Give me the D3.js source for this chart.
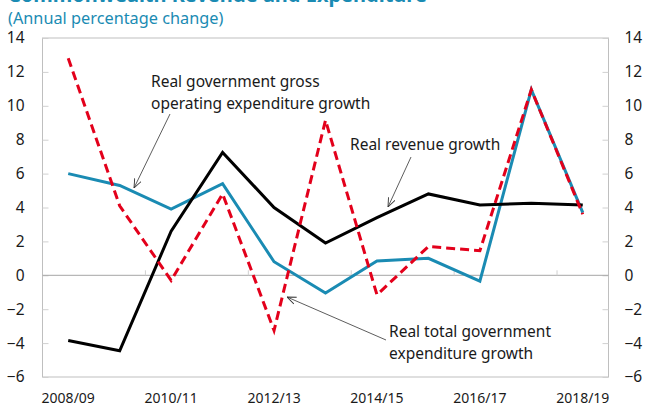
<!DOCTYPE html>
<html><head><meta charset="utf-8">
<script src="https://cdn.jsdelivr.net/npm/d3@7"></script>
<style>
body{margin:0;background:#fff;}
svg{display:block;font-family:"Noto Sans","Open Sans",sans-serif;}
</style></head>
<body>
<svg id="c" width="646" height="407"></svg>
<script>
const categories = ["2008/09","2009/10","2010/11","2011/12","2012/13","2013/14","2014/15","2015/16","2016/17","2017/18","2018/19"];
const grossOperating = [6.0, 5.3, 3.9, 5.4, 0.8, -1.05, 0.85, 1.0, -0.35, 10.95, 3.7];
const totalExpenditure = [12.8, 4.1, -0.3, 4.8, -3.25, 9.15, -1.15, 1.7, 1.45, 10.95, 3.6];
const revenue = [-3.85, -4.45, 2.6, 7.25, 4.0, 1.9, 3.4, 4.8, 4.15, 4.25, 4.15];
const yTicks = [-6,-4,-2,0,2,4,6,8,10,12,14];
const xLabels = ["2008/09","2010/11","2012/13","2014/15","2016/17","2018/19"];

const svg = d3.select("#c");
const L = 42.5, R = 608.5, T = 38, B = 377;
const x = d3.scaleBand().domain(categories).range([L, R]);
const y = d3.scaleLinear().domain([-6, 14]).range([B, T]);
const cx = d => x(d) + x.bandwidth()/2;

// title (clipped at top)
svg.append("text").attr("x", 8).attr("y", 2).attr("fill", "#1a8bb3")
  .attr("font-weight", "bold").attr("font-size", 20)
  .text("Commonwealth Revenue and Expenditure");
svg.append("text").attr("x", 8).attr("y", 24).attr("fill", "#1a8bb3")
  .attr("font-size", 16.3).text("(Annual percentage change)");

// plot border
svg.append("rect").attr("x", L).attr("y", T).attr("width", R-L).attr("height", B-T)
  .attr("fill", "none").attr("stroke", "#bfbfbf").attr("stroke-width", 1);

// left axis
const la = svg.append("g").attr("transform", `translate(${L},0)`)
  .call(d3.axisLeft(y).tickValues(yTicks).tickSize(-6).tickPadding(18));
la.select(".domain").remove();
la.selectAll("line").attr("stroke", "#d0d0d0");
la.selectAll("text").attr("font-size", 15.5).attr("fill", "#1a1a1a").attr("font-family", "Noto Sans");
// right axis
const ra = svg.append("g").attr("transform", `translate(${R},0)`)
  .call(d3.axisRight(y).tickValues(yTicks).tickSize(-6).tickPadding(16));
ra.select(".domain").remove();
ra.selectAll("line").attr("stroke", "#d0d0d0");
ra.selectAll("text").attr("font-size", 15.5).attr("fill", "#1a1a1a").attr("font-family", "Noto Sans");

// zero line
svg.append("line").attr("x1", L).attr("x2", R).attr("y1", y(0)).attr("y2", y(0))
  .attr("stroke", "#a6a6a6").attr("stroke-width", 1);
// category ticks on zero line (every 2 categories)
const tickBounds = categories.map((c,i)=>i).filter(i => i>0 && i%2===0);
svg.selectAll(".xt").data(tickBounds).enter().append("line")
  .attr("x1", i => x(categories[i])).attr("x2", i => x(categories[i]))
  .attr("y1", y(0)).attr("y2", y(0)-5).attr("stroke", "#d0d0d0");

// x labels
svg.selectAll(".xl").data(xLabels).enter().append("text")
  .attr("x", d => cx(d)).attr("y", 403).attr("text-anchor", "middle")
  .attr("font-size", 14).attr("fill", "#1a1a1a").text(d => d);

const line = d3.line().x((d,i) => cx(categories[i])).y(d => y(d));
svg.append("path").datum(grossOperating).attr("d", line).attr("fill","none")
  .attr("stroke", "#1a8bb3").attr("stroke-width", 3).attr("stroke-linejoin","miter");
svg.append("path").datum(revenue).attr("d", line).attr("fill","none")
  .attr("stroke", "#000").attr("stroke-width", 3);
svg.append("path").datum(totalExpenditure).attr("d", line).attr("fill","none")
  .attr("stroke", "#e3001b").attr("stroke-width", 3).attr("stroke-dasharray", "9,5");

// annotations
const defs = svg.append("defs");
defs.append("marker").attr("id","arr").attr("viewBox","0 0 10 10").attr("refX",10).attr("refY",5)
  .attr("markerWidth",9).attr("markerHeight",9).attr("orient","auto").attr("markerUnits","userSpaceOnUse")
  .append("path").attr("d","M0,1 L10,5 L0,9").attr("fill","none").attr("stroke","#333").attr("stroke-width",1);

function note(lines, tx, ty, ax1, ay1, ax2, ay2){
  const t = svg.append("text").attr("x", tx).attr("y", ty).attr("font-size", 15.5).attr("fill","#1a1a1a");
  lines.forEach((s,i)=> t.append("tspan").attr("x", tx).attr("dy", i===0?0:21.5).text(s));
  svg.append("line").attr("x1",ax1).attr("y1",ay1).attr("x2",ax2).attr("y2",ay2)
    .attr("stroke","#333").attr("stroke-width",0.8).attr("marker-end","url(#arr)");
}
note(["Real government gross","operating expenditure growth"], 151, 87, 170, 114, 134, 188);
note(["Real revenue growth"], 350, 150, 411, 157, 388, 207);
note(["Real total government","expenditure growth"], 389, 337, 386, 340, 287, 297);
</script>
</body></html>
